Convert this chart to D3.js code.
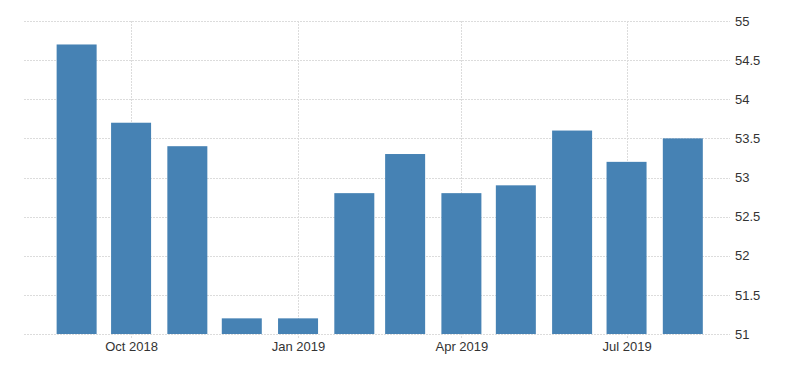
<!DOCTYPE html>
<html>
<head>
<meta charset="utf-8">
<script src="https://cdn.jsdelivr.net/npm/d3@7"></script>
<style>
  html, body { margin: 0; padding: 0; background: #fff; }
  svg { display: block; }
  .tick text { font-family: "Liberation Sans", Arial, sans-serif; font-size: 13px; fill: #333; }
</style>
</head>
<body>
<svg id="chart" width="800" height="373"></svg>
<script>
const months = ["2018-09","2018-10","2018-11","2018-12","2019-01","2019-02","2019-03","2019-04","2019-05","2019-06","2019-07","2019-08"];
const values = [54.7, 53.7, 53.4, 51.2, 51.2, 52.8, 53.3, 52.8, 52.9, 53.6, 53.2, 53.5];
const yTicks = [51, 51.5, 52, 52.5, 53, 53.5, 54, 54.5, 55];
const xTickMonths = ["2018-10","2019-01","2019-04","2019-07"];
const xDomain = ["2018-08-03","2019-08-27"];

(function () {
const parseM = d3.timeParse("%Y-%m");
const parseD = d3.timeParse("%Y-%m-%d");
const fmt = d3.timeFormat("%b %Y");

const svg = d3.select("#chart");
const mLeft = 24, mRight = 730, mTop = 21, mBottom = 334;

const x = d3.scaleTime().domain(xDomain.map(parseD)).range([mLeft, mRight]);
const y = d3.scaleLinear().domain([51, 55]).range([mBottom, mTop]);

// horizontal grid
svg.append("g").selectAll("line").data(yTicks).join("line")
  .attr("x1", mLeft).attr("x2", mRight)
  .attr("y1", d => Math.round(y(d)) + 0.5).attr("y2", d => Math.round(y(d)) + 0.5)
  .attr("stroke", "#dcdcdc").attr("stroke-width", 1).attr("stroke-dasharray", "2,1");

// vertical grid
svg.append("g").selectAll("line").data(xTickMonths.map(parseM)).join("line")
  .attr("x1", d => Math.round(x(d)) + 0.5).attr("x2", d => Math.round(x(d)) + 0.5)
  .attr("y1", mTop).attr("y2", mBottom + 4)
  .attr("stroke", "#dcdcdc").attr("stroke-width", 1).attr("stroke-dasharray", "2,1");

// bars
const barW = 40;
svg.append("g").selectAll("rect").data(months.map((m, i) => ({d: parseM(m), v: values[i]}))).join("rect")
  .attr("x", d => x(d.d) - barW / 2)
  .attr("width", barW)
  .attr("y", d => y(d.v))
  .attr("height", d => y(51) - y(d.v))
  .attr("fill", "#4682b4");

// y axis (right)
const yAxis = d3.axisRight(y).tickValues(yTicks).tickSize(0).tickPadding(5)
  .tickFormat(d3.format("~g"));
svg.append("g").attr("transform", `translate(${mRight},0)`).call(yAxis)
  .call(g => g.select(".domain").remove());

// x axis
const xAxis = d3.axisBottom(x).tickValues(xTickMonths.map(parseM)).tickSize(0).tickPadding(8)
  .tickFormat(fmt);
svg.append("g").attr("transform", `translate(0,${mBottom})`).call(xAxis)
  .call(g => g.select(".domain").remove());
})();
</script>
</body>
</html>
